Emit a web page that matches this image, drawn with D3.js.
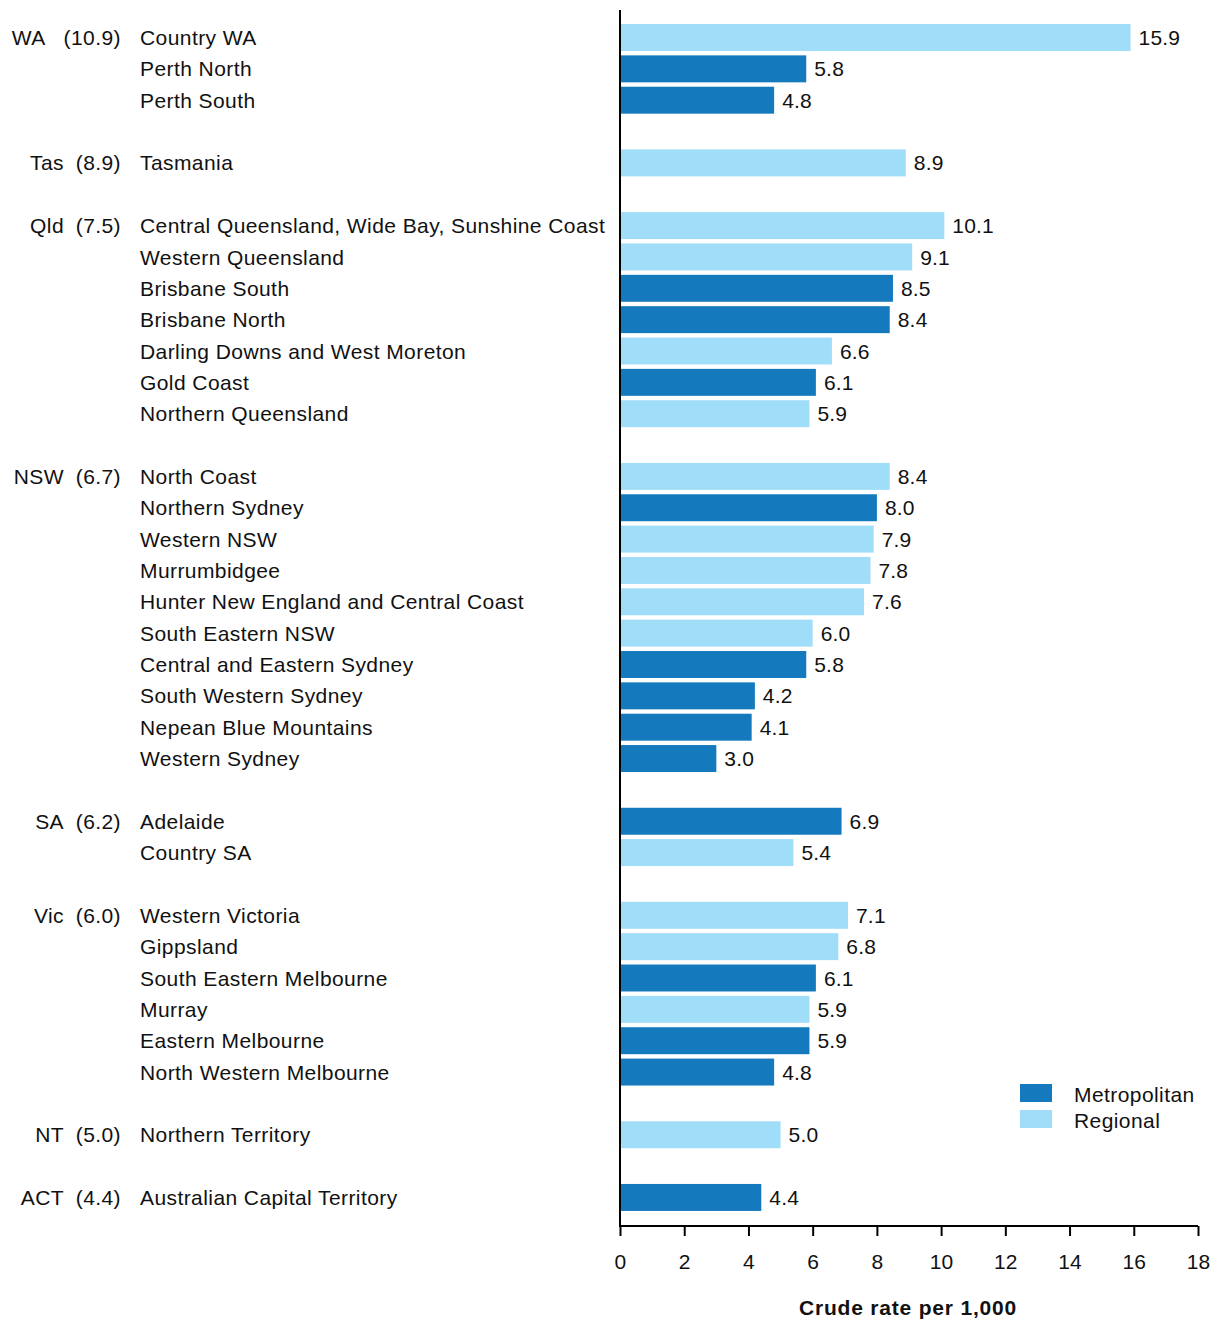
<!DOCTYPE html>
<html><head><meta charset="utf-8">
<script src="https://cdn.jsdelivr.net/npm/d3@7"></script>
<style>body{margin:0;background:#fff}text{font-family:"Liberation Sans",Arial,sans-serif;letter-spacing:0.42px}</style>
</head><body><svg id="c" width="1218" height="1320"></svg>
<script>
const states = ["WA","Tas","Qld","NSW","SA","Vic","NT","ACT"];
const stateRates = ["10.9","8.9","7.5","6.7","6.2","6.0","5.0","4.4"];
const regions = [
 ["Country WA","Perth North","Perth South"],
 ["Tasmania"],
 ["Central Queensland, Wide Bay, Sunshine Coast","Western Queensland","Brisbane South","Brisbane North","Darling Downs and West Moreton","Gold Coast","Northern Queensland"],
 ["North Coast","Northern Sydney","Western NSW","Murrumbidgee","Hunter New England and Central Coast","South Eastern NSW","Central and Eastern Sydney","South Western Sydney","Nepean Blue Mountains","Western Sydney"],
 ["Adelaide","Country SA"],
 ["Western Victoria","Gippsland","South Eastern Melbourne","Murray","Eastern Melbourne","North Western Melbourne"],
 ["Northern Territory"],
 ["Australian Capital Territory"]
];
const values = [
 [15.9,5.8,4.8],
 [8.9],
 [10.1,9.1,8.5,8.4,6.6,6.1,5.9],
 [8.4,8.0,7.9,7.8,7.6,6.0,5.8,4.2,4.1,3.0],
 [6.9,5.4],
 [7.1,6.8,6.1,5.9,5.9,4.8],
 [5.0],
 [4.4]
];
const types = [
 ["R","M","M"],
 ["R"],
 ["R","R","M","M","R","M","R"],
 ["R","M","R","R","R","R","M","M","M","M"],
 ["M","R"],
 ["R","R","M","R","M","M"],
 ["R"],
 ["M"]
];
const xTicks = [0,2,4,6,8,10,12,14,16,18];
const legendLabels = ["Metropolitan","Regional"];
const colors = {M:"#1479bd", R:"#a0ddf8"};

const slots = [];
const rows = [];
states.forEach((s,gi)=>{
  if(gi>0) slots.push("gap"+gi);
  regions[gi].forEach((r,ri)=>{
    const key = s+"|"+r;
    slots.push(key);
    rows.push({key, state:s, rate:stateRates[gi], name:r, value:values[gi][ri], type:types[gi][ri], first:ri===0});
  });
});

const svg = d3.select("#c");
const x = d3.scaleLinear().domain([0,18]).range([620,1198]);
const step = 31.35;
const y = d3.scaleBand().domain(slots).range([37.5-step/2, 37.5-step/2+step*slots.length]).paddingInner(0.14).paddingOuter(0.07);

const fs = 21;
const ink = "#111";
const g = svg.append("g");
g.selectAll("rect.bar").data(rows).join("rect")
  .attr("x", x(0)).attr("y", d=>y(d.key)).attr("width", d=>x(d.value)-x(0))
  .attr("height", y.bandwidth()).attr("fill", d=>colors[d.type]);
g.selectAll("text.val").data(rows).join("text")
  .attr("x", d=>x(d.value)+8).attr("y", d=>y(d.key)+y.bandwidth()/2).attr("dy","0.36em")
  .attr("font-size",fs).attr("fill",ink).style("letter-spacing","0.2px").text(d=>d.value.toFixed(1));
g.selectAll("text.name").data(rows).join("text")
  .attr("x", 140).attr("y", d=>y(d.key)+y.bandwidth()/2).attr("dy","0.36em")
  .attr("font-size",fs).attr("fill",ink).text(d=>d.name);
const firsts = rows.filter(d=>d.first);
const rt = g.selectAll("text.rt").data(firsts).join("text")
  .attr("x", 121).attr("text-anchor","end").attr("y", d=>y(d.key)+y.bandwidth()/2).attr("dy","0.36em")
  .attr("font-size",fs).attr("fill",ink).text(d=>"("+d.rate+")");
const rtW = rt.nodes().map(n=>n.getComputedTextLength());
g.selectAll("text.st").data(firsts).join("text")
  .attr("x", (d,i)=>rtW[i]>50 ? 121-rtW[i]-18 : 64).attr("text-anchor","end").attr("y", d=>y(d.key)+y.bandwidth()/2).attr("dy","0.36em")
  .attr("font-size",fs).attr("fill",ink).text(d=>d.state);

svg.append("line").attr("x1",x(0)).attr("x2",x(0)).attr("y1",10).attr("y2",1227).attr("stroke","#000").attr("stroke-width",2);
const xa = svg.append("g").attr("transform","translate(0,1226)")
  .call(d3.axisBottom(x).tickValues(xTicks).tickSize(10).tickPadding(18).tickFormat(d3.format("d")));
xa.select(".domain").attr("stroke","#000").attr("stroke-width",2).attr("d","M"+x(0)+",0H"+x(18));
xa.selectAll(".tick line").attr("stroke","#000").attr("stroke-width",2);
xa.selectAll(".tick text").attr("font-size",fs).attr("fill",ink).attr("font-family","Liberation Sans, Arial, sans-serif").style("letter-spacing","0.2px");
svg.append("text").attr("x",908).attr("y",1315).attr("text-anchor","middle").attr("font-size",fs)
  .attr("font-weight","bold").attr("fill",ink).style("letter-spacing","0.8px").text("Crude rate per 1,000");

const lg = svg.append("g").attr("transform","translate(1020,1084)");
legendLabels.forEach((l,i)=>{
  lg.append("rect").attr("x",0).attr("y",i*26).attr("width",32).attr("height",18).attr("fill",colors[i===0?"M":"R"]);
  lg.append("text").attr("x",54).attr("y",i*26+10).attr("dy","0.36em").attr("font-size",fs).attr("fill",ink).text(l);
});
</script></body></html>
